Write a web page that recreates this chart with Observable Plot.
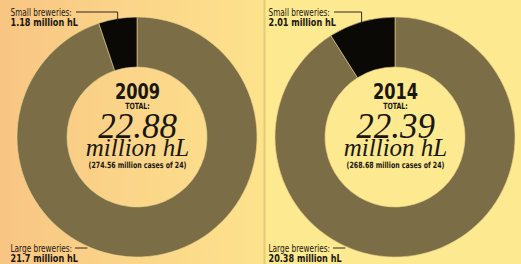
<!DOCTYPE html>
<html><head><meta charset="utf-8">
<script src="https://cdn.jsdelivr.net/npm/d3@7"></script>
<script src="https://cdn.jsdelivr.net/npm/@observablehq/plot@0.6"></script>
<style>
body{margin:0;}
#chart svg{display:block;}
</style></head><body><div id="chart"></div>
<script>
const years = ["2009", "2014"];
const smallBreweries = [1.18, 2.01];
const largeBreweries = [21.7, 20.38];
const totals = [22.88, 22.39];
const cases = [274.56, 268.68];

const rows = years.map((year, i) => ({
  year, small: smallBreweries[i], large: largeBreweries[i], total: totals[i], cases: cases[i]
}));

const W = 521, H = 264;
const CY = 137, OUTER = 120, INNER = 70;
const NARROW = "'DejaVu Sans Condensed','Liberation Sans Narrow','Arial Narrow',sans-serif";
const SERIF = "'Liberation Serif','DejaVu Serif',serif";
const OLIVE = "#7b6d45", BLACK = "#0b0906", INK = "#1a1712";
const SQUEEZE = 0.82;

function donuts(index, scales) {
  const {x, y} = scales;
  const g = d3.create("svg:g");
  const ro = y(OUTER) - y(0), ri = y(INNER) - y(0);
  const arc = d3.arc().innerRadius(ri).outerRadius(ro);
  const pie = d3.pie().sort(null);
  for (const r of rows) {
    const cx = x(r.year), cy = y(CY);
    const arcs = pie([r.large, r.small]);
    const gg = g.append("g").attr("transform", `translate(${cx},${cy})`);
    gg.selectAll("path").data(arcs).join("path")
      .attr("d", arc)
      .attr("fill", (d, i) => i === 0 ? OLIVE : BLACK)
      .attr("stroke", "#e8d48a").attr("stroke-width", 0.6);
    const s = arcs[1];
    const mid = (s.startAngle + s.endAngle) / 2;
    const px = cx + ro * Math.sin(mid), py = cy - ro * Math.cos(mid);
    const ly = y(12);
    g.append("path")
      .attr("d", `M${cx - 61},${ly}H${px}V${py + 2}`)
      .attr("fill", "none").attr("stroke", "#2a2a2a").attr("stroke-width", 1);
    const by = y(248);
    const ex = cx - Math.sqrt(ro * ro - (by - cy) ** 2);
    g.append("path")
      .attr("d", `M${cx - 62},${by}H${ex - 4}`)
      .attr("fill", "none").attr("stroke", "#2a2a2a").attr("stroke-width", 1);
  }
  return g.node();
}

const txt = (text, yv, opts) => Plot.text(rows, {
  x: "year", y: () => yv, text, lineAnchor: "bottom", fill: INK, ...opts
});

const chart = Plot.plot({
  width: W, height: H,
  margin: 0,
  x: {type: "point", domain: years, range: [8, 524], padding: 0.5, axis: null},
  y: {domain: [0, H], range: [0, H], axis: null},
  style: {
    background: "linear-gradient(90deg, #f8c583 0px, #fbd589 130px, #fde28c 263px, #e3cb7a 264px, #e3cb7a 265px, #fde98f 266px, #fde98f 521px)",
    overflow: "visible"
  },
  marks: [
    donuts,
    txt("year", 98, {fontFamily: NARROW, fontWeight: "bold", fontSize: 22}),
    txt(() => "TOTAL:", 108, {fontFamily: NARROW, fontWeight: "bold", fontSize: 8.5}),
    txt(d => d3.format(".2f")(d.total), 137, {fontFamily: SERIF, fontStyle: "italic", fontSize: 35}),
    txt(() => "million hL", 155, {fontFamily: SERIF, fontStyle: "italic", fontSize: 25}),
    txt(d => `(${d.cases} million cases of 24)`, 167, {fontFamily: NARROW, fontWeight: "bold", fontSize: 8.5}),
    txt(() => "Small breweries:", 15, {fontFamily: NARROW, fontSize: 10, textAnchor: "start", dx: -127}),
    txt(d => `${d.small} million hL`, 25, {fontFamily: NARROW, fontWeight: "bold", fontSize: 11, textAnchor: "start", dx: -127}),
    txt(() => "Large breweries:", 251, {fontFamily: NARROW, fontSize: 10, textAnchor: "start", dx: -127}),
    txt(d => `${d.large} million hL`, 261, {fontFamily: NARROW, fontWeight: "bold", fontSize: 11, textAnchor: "start", dx: -127})
  ]
});

// horizontally condense the sans labels (stand-in for a condensed newspaper face)
d3.select(chart).selectAll("g[font-family*='Condensed'] text").each(function () {
  const el = d3.select(this);
  const x = +el.attr("x") || 0, y = +el.attr("y") || 0;
  el.attr("x", null).attr("y", null);
  const t = el.attr("transform") || "";
  el.attr("transform", `${t} translate(${x},${y}) scale(${SQUEEZE},1)`);
});

document.getElementById("chart").appendChild(chart);
</script>
</body></html>
